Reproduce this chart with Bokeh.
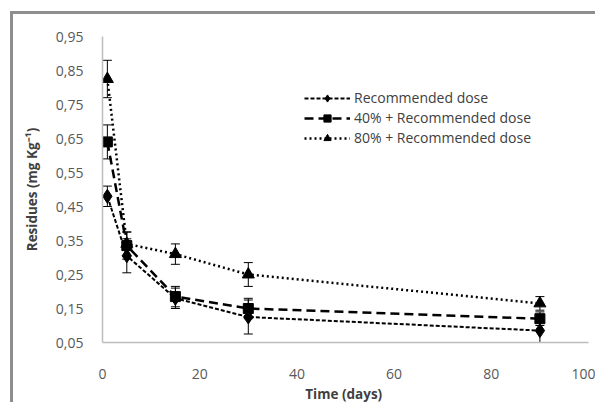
from bokeh.plotting import figure
from bokeh.models import (ColumnDataSource, Whisker, TeeHead, FixedTicker,
                          CustomJSTickFormatter, Legend, LegendItem, Range1d)
from bokeh.embed import file_html
from bokeh.resources import INLINE

days = [1, 5, 15, 30, 90]
rec = [0.48, 0.305, 0.18, 0.125, 0.085]
rec_err = [0.03, 0.05, 0.03, 0.05, 0.04]
p40 = [0.64, 0.335, 0.185, 0.15, 0.12]
p40_err = [0.05, 0.04, 0.03, 0.03, 0.02]
p80 = [0.825, 0.34, 0.31, 0.25, 0.165]
p80_err = [0.055, 0.035, 0.03, 0.035, 0.02]
names = ["Recommended dose", "40% + Recommended dose", "80% + Recommended dose"]
y_ticks = [0.05, 0.15, 0.25, 0.35, 0.45, 0.55, 0.65, 0.75, 0.85, 0.95]
x_ticks = [0, 20, 40, 60, 80, 100]

FONT = "Open Sans"

p = figure(width=585, height=391, output_backend="svg", toolbar_location=None,
           x_range=Range1d(0, 100), y_range=Range1d(0.05, 0.95),
           min_border_left=89, min_border_right=10, min_border_top=22,
           min_border_bottom=55)
p.margin = (11, 0, 0, 10)
p.styles = {"border-left": "3px solid #8e8e8e", "border-top": "3px solid #8e8e8e",
            "border-right": "none", "border-bottom": "none"}
p.outline_line_color = None
p.xgrid.visible = False
p.ygrid.visible = False

for ax in (p.xaxis[0], p.yaxis[0]):
    ax.axis_line_color = "#bdbdbd"
    ax.axis_line_width = 1.5
    ax.major_tick_line_color = None
    ax.minor_tick_line_color = None
    ax.major_label_text_font = FONT
    ax.major_label_text_font_size = "14px"
    ax.major_label_text_color = "#595959"
    ax.axis_label_text_font = FONT
    ax.axis_label_text_font_size = "13.5px"
    ax.axis_label_text_font_style = "bold"
    ax.axis_label_text_color = "#404040"

p.yaxis.ticker = FixedTicker(ticks=y_ticks)
p.yaxis.formatter = CustomJSTickFormatter(code="return tick.toFixed(2).replace('.', ',');")
p.yaxis.major_label_standoff = 13
p.yaxis.axis_label = "Residues (mg Kg\u207b\u00b9)"
p.yaxis.axis_label_standoff = 12
p.xaxis.ticker = FixedTicker(ticks=x_ticks)
p.xaxis.major_label_standoff = 20
p.xaxis.axis_label = "Time  (days)"
p.xaxis.axis_label_standoff = 3

series = [
    (rec, rec_err, "4 2", 2, "diamond", 14),
    (p40, p40_err, "9 5", 2.5, "square", 10),
    (p80, p80_err, "2 3", 2.5, "triangle", 12),
]
items = []
for (vals, errs, dash, lw, marker, size), name in zip(series, names):
    src = ColumnDataSource(dict(x=days, y=vals,
                                upper=[v + e for v, e in zip(vals, errs)],
                                lower=[v - e for v, e in zip(vals, errs)]))
    w = Whisker(base="x", upper="upper", lower="lower", source=src,
                line_color="black", line_width=1,
                upper_head=TeeHead(size=9, line_color="black", line_width=1),
                lower_head=TeeHead(size=9, line_color="black", line_width=1))
    p.add_layout(w)
    l = p.line("x", "y", source=src, line_color="black", line_width=lw, line_dash=dash)
    s = p.scatter("x", "y", source=src, marker=marker, size=size,
                  fill_color="black", line_color="black")
    items.append(LegendItem(label=name, renderers=[l, s]))

legend = Legend(items=items, location=(202, 195), glyph_width=46, glyph_height=18,
                label_height=18, spacing=1, padding=0, margin=0,
                label_text_font=FONT, label_text_font_size="14px",
                label_text_color="#404040", border_line_color=None,
                background_fill_alpha=0, label_standoff=4)
p.add_layout(legend, "center")

open("out.html", "w").write(file_html(p, INLINE))
